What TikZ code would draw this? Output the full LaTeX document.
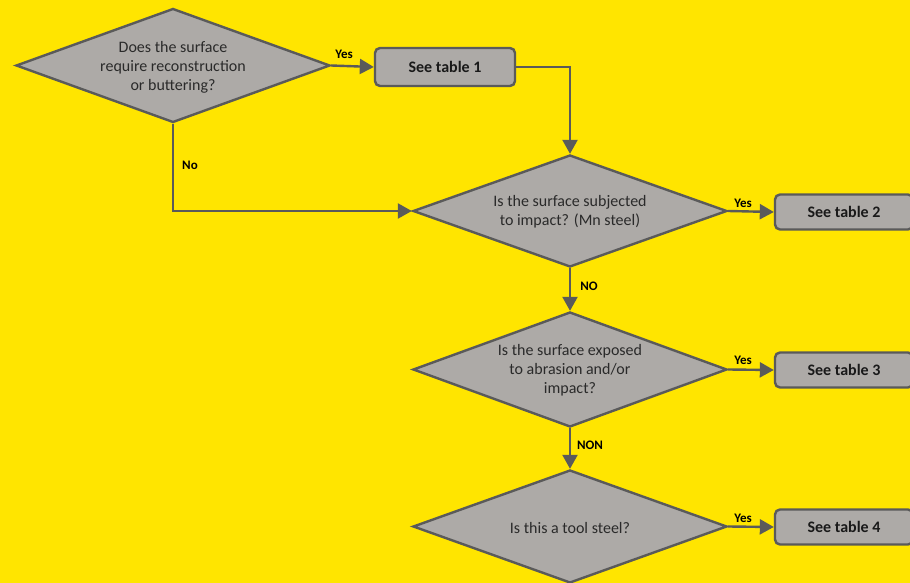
\documentclass[tikz,border=0pt]{standalone}
\usepackage{fontspec}
\setmainfont{Carlito}
\usetikzlibrary{shapes.geometric,arrows.meta}
\definecolor{bgyellow}{HTML}{FFE500}
\definecolor{boxgray}{HTML}{ADAAA7}
\definecolor{linegray}{HTML}{5A5A5A}
\definecolor{txtgray}{HTML}{2A2A2A}
\tikzset{
  question/.style={diamond, draw=linegray, line width=2.4pt, fill=boxgray, inner sep=0pt,
    shape aspect=2.75, minimum width=314pt, minimum height=114pt},
  qtext/.style={align=center, text=txtgray, inner sep=0pt,
    font=\fontsize{16}{19}\selectfont},
  tablebox/.style={draw=linegray, line width=2.4pt, fill=boxgray, rounded corners=5pt,
    inner sep=0pt, font=\fontsize{16}{18}\selectfont\bfseries, text=black!90},
  conn/.style={draw=linegray, line width=2.4pt, -{Triangle[length=14pt,width=15pt]}},
  lbl/.style={font=\fontsize{13}{14}\selectfont\bfseries, text=black, inner sep=0pt}
}
\begin{document}
\begin{tikzpicture}[x=1pt,y=-1pt]
\useasboundingbox (0,0) rectangle (910,583);
\fill[bgyellow] (0,0) rectangle (910,583);
\begin{scope}
\clip (0,0) rectangle (910,583);
\node[question] (d1) at (173,65.5) {};
\node[question, shape aspect=2.8, minimum height=112pt] (d2) at (570,211) {};
\node[question, shape aspect=2.73, minimum height=115pt] (d3) at (570,369.5) {};
\node[question, shape aspect=2.78, minimum height=113pt] (d4) at (570,526.5) {};
\node[qtext] (t1) at ([yshift=-1.5pt]d1.center) {Does the surface\\require reconstruction\\or buttering?};
\node[qtext] (t2) at ([yshift=-1pt]d2.center) {Is the surface subjected\\to impact? (Mn steel)};
\node[qtext] (t3) at ([yshift=-1pt]d3.center) {Is the surface exposed\\to abrasion and/or\\impact?};
\node[qtext] (t4) at ([yshift=-1pt]d4.center) {Is this a tool steel?};
\node[tablebox, minimum width=140pt, minimum height=38pt] (b1) at (445,67) {See table 1};
\node[tablebox, minimum width=138pt, minimum height=35pt] (b2) at (844,212) {See table 2};
\node[tablebox, minimum width=138pt, minimum height=35pt] (b3) at (844,370) {See table 3};
\node[tablebox, minimum width=138pt, minimum height=35pt] (b4) at (844,527) {See table 4};
\draw[conn] (d1.east) -- (b1.west);
\draw[conn] (b1.east) -| (d2.north);
\draw[conn] (d1.south) |- (d2.west);
\draw[conn] (d2.east) -- (b2.west);
\draw[conn] (d2.south) -- (d3.north);
\draw[conn] (d3.east) -- (b3.west);
\draw[conn] (d3.south) -- (d4.north);
\draw[conn] (d4.east) -- (b4.west);
\end{scope}
\node[lbl] (l1) at (344,54) {Yes};
\node[lbl] (l2) at (190,165) {No};
\node[lbl] (l3) at (743,203) {Yes};
\node[lbl] (l4) at (589,286) {NO};
\node[lbl] (l5) at (743,360) {Yes};
\node[lbl] (l6) at (590,445) {NON};
\node[lbl] (l7) at (743,518) {Yes};
\end{tikzpicture}
\end{document}
